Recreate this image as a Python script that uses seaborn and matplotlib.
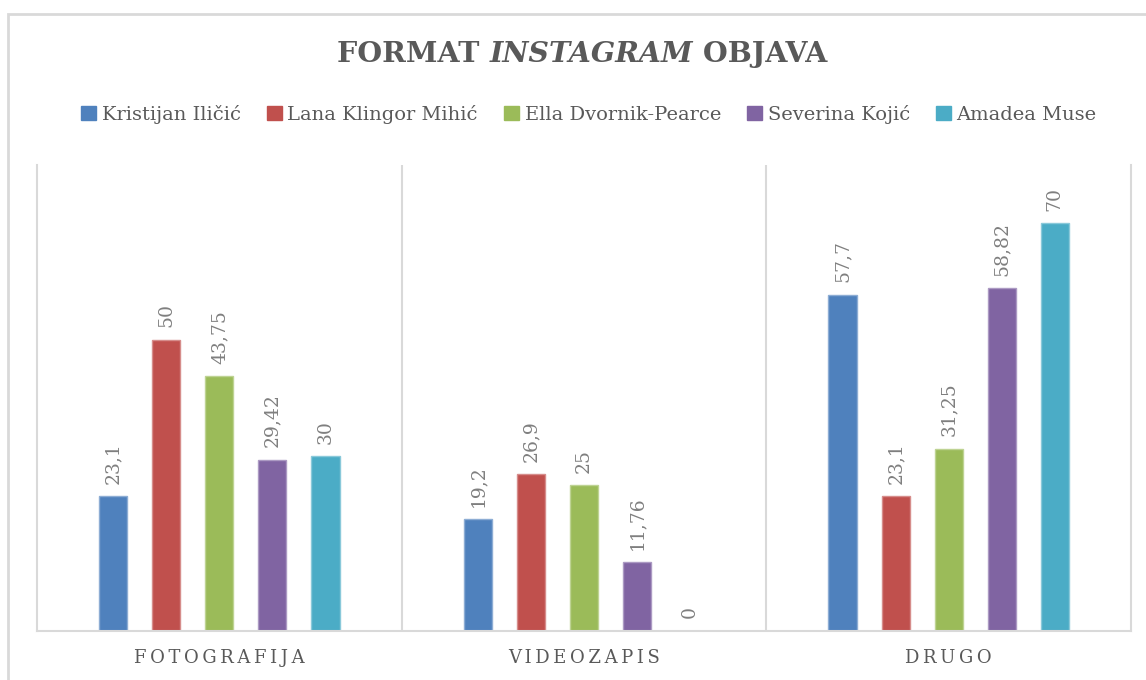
import pandas as pd
import matplotlib
matplotlib.use('Agg')
import matplotlib.pyplot as plt
import seaborn as sns
from matplotlib.patches import Rectangle
from matplotlib.colors import to_rgb

# ---------- data ----------
kategorije = ['FOTOGRAFIJA', 'VIDEOZAPIS', 'DRUGO']
osobe = ['Kristijan Iličić', 'Lana Klingor Mihić', 'Ella Dvornik-Pearce',
         'Severina Kojić', 'Amadea Muse']
kristijan = [23.1, 19.2, 57.7]
lana = [50, 26.9, 23.1]
ella = [43.75, 25, 31.25]
severina = [29.42, 11.76, 58.82]
amadea = [30, 0, 70]
boje = ['#4F81BD', '#C0504D', '#9BBB59', '#8064A2', '#4BACC6']

vrijednosti = [kristijan, lana, ella, severina, amadea]
rows = []
for osoba, vals in zip(osobe, vrijednosti):
    for kat, v in zip(kategorije, vals):
        rows.append({'format': kat, 'osoba': osoba, 'postotak': v})
data = pd.DataFrame(rows)

# ---------- plot ----------
sns.set_style('white')
plt.rcParams['font.family'] = ['DejaVu Serif', 'DejaVu Sans']
siva = '#595959'
linija = '#d9d9d9'

fig = plt.figure(figsize=(11.46, 6.80), dpi=100)
ax = fig.add_axes([37/1146, 1 - 631/680, (1131 - 37)/1146, (631 - 165)/680])

sns.barplot(data=data, x='format', y='postotak', hue='osoba', order=kategorije,
            hue_order=osobe, palette=boje, saturation=1, errorbar=None,
            width=0.728, gap=0.47, ax=ax, legend=False)

# rubovi stupaca malo svjetliji
for cont, c in zip(ax.containers, boje):
    r, g, b = to_rgb(c)
    light = (r + (1 - r) * 0.35, g + (1 - g) * 0.35, b + (1 - b) * 0.35)
    for bar in cont:
        bar.set_edgecolor(light)
        bar.set_linewidth(1.0)

# oznake vrijednosti
for cont, vals in zip(ax.containers, vrijednosti):
    labels = ['{:g}'.format(v).replace('.', ',') for v in vals]
    ax.bar_label(cont, labels=labels, rotation=90, padding=9,
                 fontsize=13.5, color='#7f7f7f')

ax.set_ylim(0, 80)
ax.set_xlim(-0.5, 2.5)
ax.set_yticks([])
ax.set_xlabel('')
ax.set_ylabel('')
ax.set_xticks(range(len(kategorije)))
ax.set_xticklabels(['\u2009'.join(k) for k in kategorije], fontsize=13, color=siva)
ax.tick_params(axis='x', length=0, pad=13)

for s in ['left', 'right', 'bottom']:
    ax.spines[s].set_color(linija)
    ax.spines[s].set_linewidth(1.5)
ax.spines['top'].set_visible(False)
for x in [0.5, 1.5]:
    ax.axvline(x, color=linija, lw=1.5, zorder=0)

# legenda
handles = [plt.Rectangle((0, 0), 1, 1, color=c) for c in boje]
fig.legend(handles, osobe, loc='center', bbox_to_anchor=(589/1146, 1 - 114/680),
           ncol=5, frameon=False, fontsize=14, handlelength=0.75,
           handleheight=0.75, handletextpad=0.3, columnspacing=1.35,
           labelcolor=siva)

# naslov: FORMAT *INSTAGRAM* OBJAVA
dijelovi = [('FORMAT ', 'normal'), ('INSTAGRAM', 'italic'), (' OBJAVA', 'normal')]
teksti = []
for txt, stil in dijelovi:
    teksti.append(fig.text(0, 1 - 55/680, txt, fontsize=20.5, fontweight='bold',
                           fontstyle=stil, color=siva, va='center', ha='left'))
fig.canvas.draw()
rend = fig.canvas.get_renderer()
sirine = [t.get_window_extent(rend).width for t in teksti]
x0 = (582 - sum(sirine) / 2)
for t, w in zip(teksti, sirine):
    t.set_x(x0 / 1146)
    x0 += w

# okvir grafikona
fig.patches.append(Rectangle((8/1146, -0.1), 1.2, 1 - 14/680 + 0.1,
                             transform=fig.transFigure, fill=False,
                             edgecolor=linija, lw=2))

fig.savefig('out.png', dpi=100)
